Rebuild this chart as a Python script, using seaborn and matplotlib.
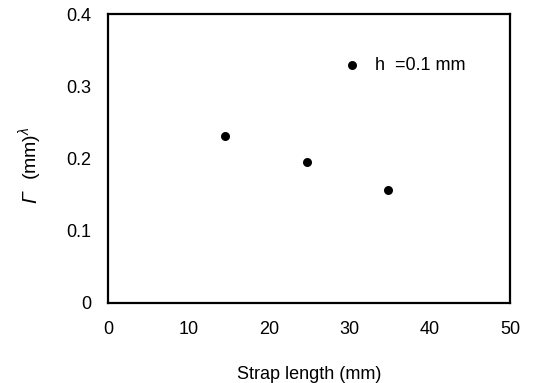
import matplotlib
matplotlib.use("Agg")
import matplotlib.pyplot as plt
import seaborn as sns
import pandas as pd

# data
strap_length = [14.5, 24.7, 34.8]
gamma = [0.231, 0.195, 0.156]
series_label = "h  =0.1 mm"

sns.set_style("white")
plt.rcParams["font.family"] = ["Liberation Sans", "DejaVu Sans"]
plt.rcParams["text.color"] = "black"
plt.rcParams["axes.labelcolor"] = "black"
plt.rcParams["xtick.color"] = "black"
plt.rcParams["ytick.color"] = "black"
plt.rcParams["mathtext.fontset"] = "custom"
plt.rcParams["mathtext.rm"] = "Liberation Sans"
plt.rcParams["mathtext.it"] = "Liberation Sans:italic"

df = pd.DataFrame({"x": strap_length, "y": gamma})

fig = plt.figure(figsize=(5.39, 3.83), dpi=100)
ax = fig.add_axes([0.2004, 0.2089, 0.7458, 0.7545])
sns.scatterplot(data=df, x="x", y="y", ax=ax, color="black", s=42,
                edgecolor="black", linewidth=0)

# legend entry drawn as a marker + text inside the axes
ax.scatter([30.4], [0.329], color="black", s=42, linewidth=0)
ax.text(33.2, 0.329, series_label, fontsize=13, va="center", ha="left")

ax.set_xlim(0, 50)
ax.set_ylim(0, 0.4)
ax.set_xticks([0, 10, 20, 30, 40, 50])
ax.set_yticks([0, 0.1, 0.2, 0.3, 0.4])
ax.set_yticklabels(["0", "0.1", "0.2", "0.3", "0.4"])
ax.tick_params(axis="both", length=0, labelsize=13)
ax.tick_params(axis="x", pad=13)
ax.tick_params(axis="y", pad=12)
for sp in ax.spines.values():
    sp.set_visible(True)
    sp.set_color("black")
    sp.set_linewidth(1.6)

ax.set_xlabel("Strap length (mm)", fontsize=13, labelpad=20)
ax.set_ylabel("")

# y label: italic Gamma + upright unit, as two rotated texts
ax.text(-0.193, 0.365, "Γ", transform=ax.transAxes, rotation=90,
        fontsize=15, fontstyle="italic", ha="center", va="center")
ax.text(-0.193, 0.52, r"(mm)$^{\lambda}$", transform=ax.transAxes,
        rotation=90, fontsize=14, ha="center", va="center")

fig.savefig("out.png", dpi=100)
